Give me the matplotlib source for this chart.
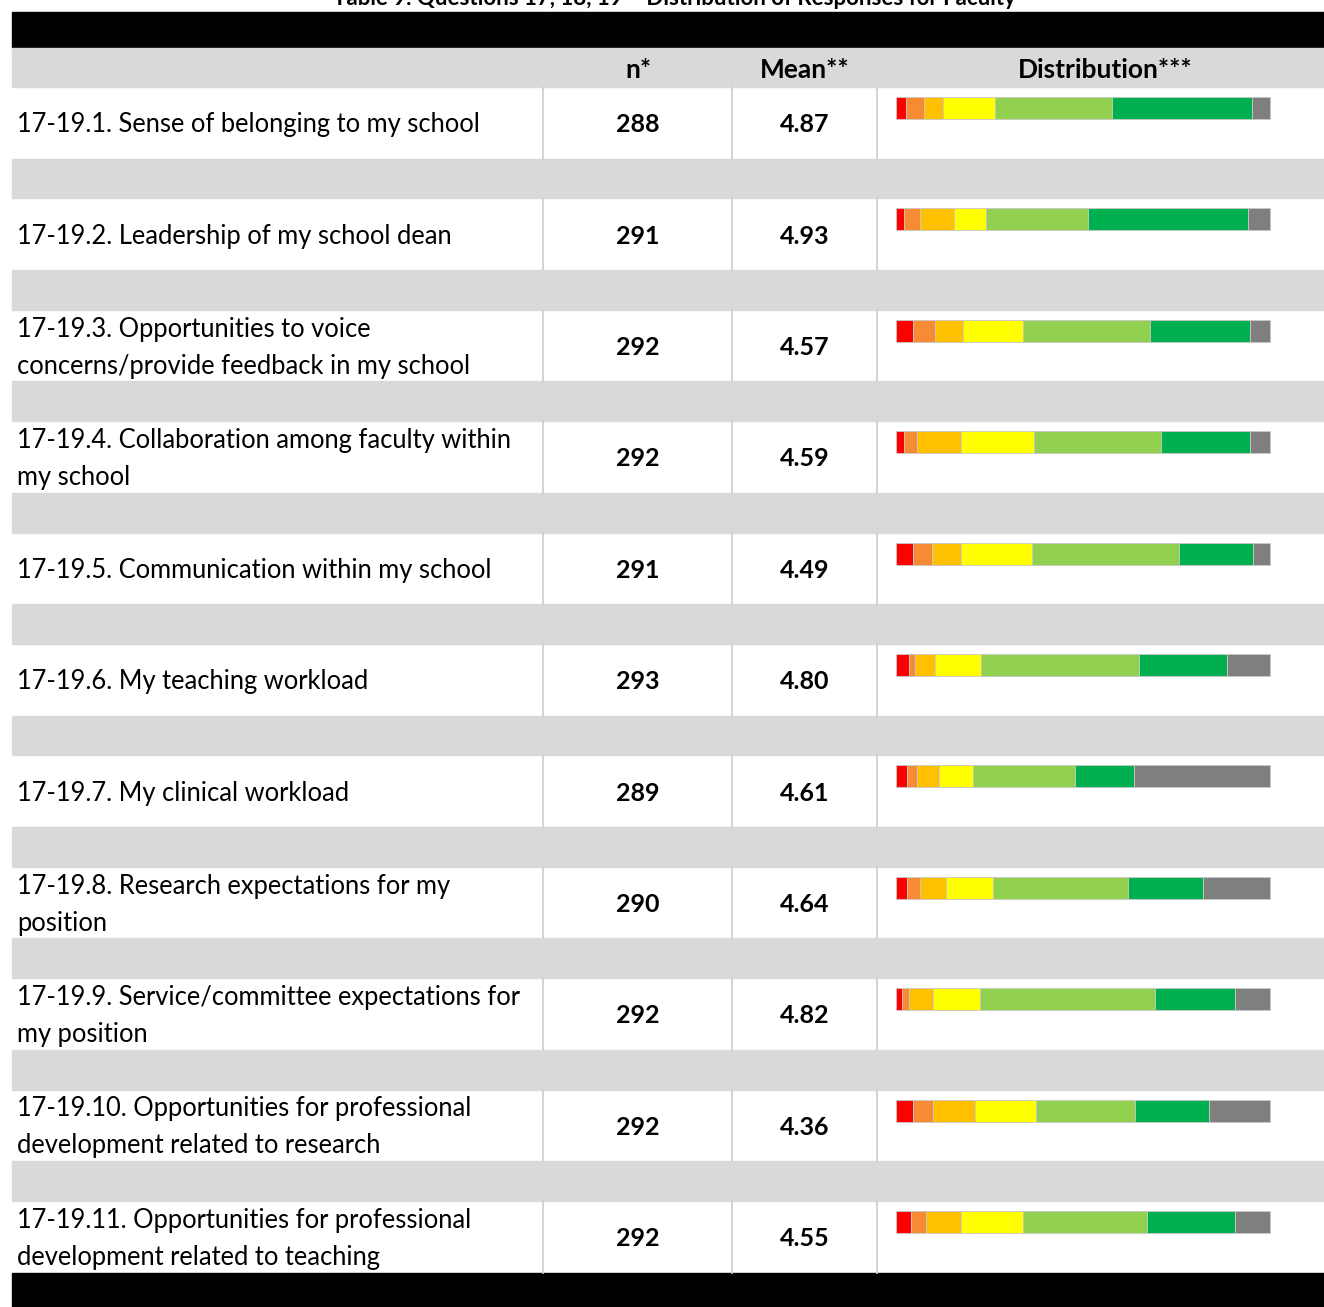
"""Faculty survey table: questions 17-19 with n, mean and stacked response distribution."""
import matplotlib

matplotlib.use("Agg")
import matplotlib.pyplot as plt
import numpy as np
from matplotlib.patches import Rectangle

plt.rcParams["font.family"] = ["Lato", "DejaVu Sans"]

TITLE = "Table 9. Questions 17, 18, 19 \u2013 Distribution of Responses for Faculty"
HEADERS = ["n*", "Mean**", "Distribution***"]

items = [
    "17-19.1. Sense of belonging to my school",
    "17-19.2. Leadership of my school dean",
    "17-19.3. Opportunities to voice\nconcerns/provide feedback in my school",
    "17-19.4. Collaboration among faculty within\nmy school",
    "17-19.5. Communication within my school",
    "17-19.6. My teaching workload",
    "17-19.7. My clinical workload",
    "17-19.8. Research expectations for my\nposition",
    "17-19.9. Service/committee expectations for\nmy position",
    "17-19.10. Opportunities for professional\ndevelopment related to research",
    "17-19.11. Opportunities for professional\ndevelopment related to teaching",
]
n_resp = [288, 291, 292, 292, 291, 293, 289, 290, 292, 292, 292]
means = [4.87, 4.93, 4.57, 4.59, 4.49, 4.80, 4.61, 4.64, 4.82, 4.36, 4.55]

# percent of responses per category, lowest rating first, last = N/A
dist = np.array([
    [2.6, 4.9, 5.0, 14.0, 31.3, 37.3, 4.9],
    [2.1, 4.4, 9.0, 8.5, 27.4, 42.7, 5.9],
    [4.6, 5.9, 7.5, 16.0, 33.8, 26.8, 5.4],
    [2.1, 3.4, 11.9, 19.6, 33.8, 23.8, 5.4],
    [4.6, 4.9, 7.9, 19.0, 39.3, 19.8, 4.5],
    [3.5, 1.6, 5.4, 12.1, 42.3, 23.7, 11.4],
    [2.9, 2.7, 5.9, 9.0, 27.4, 15.8, 36.3],
    [2.9, 3.5, 7.1, 12.5, 35.9, 20.2, 17.9],
    [1.6, 1.9, 6.5, 12.5, 46.8, 21.3, 9.4],
    [4.6, 5.4, 11.0, 16.5, 26.3, 19.9, 16.3],
    [4.0, 4.0, 9.4, 16.5, 33.3, 23.4, 9.4],
])
colors = ["#FF0000", "#F68B34", "#FFC000", "#FFFF00", "#92D050", "#00B050", "#7F7F7F"]

W, H = 1324, 1307
GRAY = "#D9D9D9"
LEFT, RIGHT = 12, 1324
COL_SEP = [543, 732, 877]
COL_CENTER = [638, 805, 1105]
HEAD_TOP, HEAD_BOT = 48, 87
PITCH, ROW_H = 111.4, 71.5
BAR_X0, BAR_W, BAR_H = 896, 374, 22

fig = plt.figure(figsize=(W / 100, H / 100), dpi=100)
ax = fig.add_axes([0, 0, 1, 1])
ax.set_xlim(0, W)
ax.set_ylim(H, 0)
ax.axis("off")

ax.text(674, 5, TITLE, ha="center", va="baseline", fontsize=16,
        fontweight="bold")

# top and bottom black bands
ax.add_patch(Rectangle((LEFT, 12), RIGHT - LEFT, HEAD_TOP - 12, color="black"))
bottom = HEAD_BOT + len(items) * PITCH - (PITCH - ROW_H)
ax.add_patch(Rectangle((LEFT, bottom), RIGHT - LEFT, H - bottom, color="black"))

# header row
ax.add_patch(Rectangle((LEFT, HEAD_TOP), RIGHT - LEFT, HEAD_BOT - HEAD_TOP, color=GRAY))
for x, h in zip(COL_CENTER, HEADERS):
    ax.text(x, (HEAD_TOP + HEAD_BOT) / 2 + 3, h, ha="center", va="center",
            fontsize=19, fontweight="bold")

centers = []
for i, (label, n, m) in enumerate(zip(items, n_resp, means)):
    top = HEAD_BOT + i * PITCH
    mid = top + ROW_H / 2
    if i < len(items) - 1:
        ax.add_patch(Rectangle((LEFT, top + ROW_H), RIGHT - LEFT, PITCH - ROW_H,
                               color=GRAY))
    for x in COL_SEP:
        ax.plot([x, x], [top, top + ROW_H], color="#D0D0D0", lw=1.3)
    ax.text(17, mid + 2, label, ha="left", va="center", fontsize=18.4,
            linespacing=1.6)
    ax.text(COL_CENTER[0], mid + 2, f"{n}", ha="center", va="center",
            fontsize=18, fontweight="bold")
    ax.text(COL_CENTER[1], mid + 2, f"{m:.2f}", ha="center", va="center",
            fontsize=18, fontweight="bold")
    centers.append(top + 10 + BAR_H / 2)

# stacked distribution bars, percentages scaled to the column width
centers = np.array(centers)
scale = BAR_W / 100.0
left = np.zeros(len(items))
for k, c in enumerate(colors):
    ax.barh(centers, dist[:, k] * scale, height=BAR_H, left=BAR_X0 + left * scale,
            color=c, edgecolor="#C8C8C8", linewidth=0.6)
    left += dist[:, k]

fig.savefig("out.png", dpi=100)
